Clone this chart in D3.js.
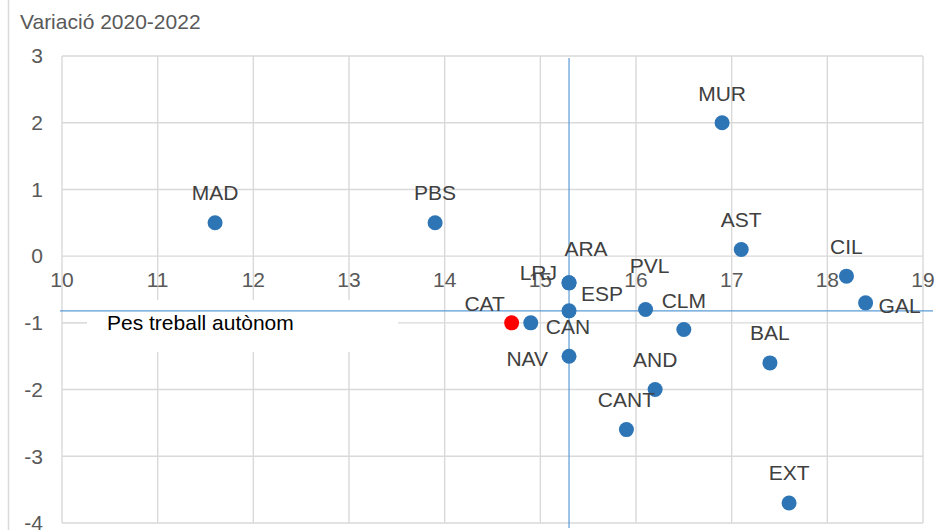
<!DOCTYPE html>
<html>
<head>
<meta charset="utf-8">
<script src="https://cdn.jsdelivr.net/npm/d3@7"></script>
<style>
  body { margin: 0; background: #fff; }
  svg { display: block; font-family: "Liberation Sans", Arial, sans-serif; }
</style>
</head>
<body>
<svg id="root" width="938" height="530"></svg>
<script>
"use strict";

// regions: pes treball autonom (x) vs variacio 2020-2022 (y)
const regions = ["MAD", "PBS", "MUR", "AST", "CIL", "GAL", "ARA", "LRJ", "ESP",
  "CAT", "CAN", "NAV", "PVL", "CLM", "AND", "CANT", "BAL", "EXT"];
const pesAutonom = [11.6, 13.9, 16.9, 17.1, 18.2, 18.4, 15.3, 15.3, 15.3,
  14.7, 14.9, 15.3, 16.1, 16.5, 16.2, 15.9, 17.4, 17.6];
const variacio = [0.5, 0.5, 2.0, 0.1, -0.3, -0.7, -0.4, -0.4, -0.82,
  -1.0, -1.0, -1.5, -0.8, -1.1, -2.0, -2.6, -1.6, -3.7];
const xTicks = [10, 11, 12, 13, 14, 15, 16, 17, 18, 19];
const yTicks = [3, 2, 1, 0, -1, -2, -3, -4];
const highlight = "CAT";
const reference = "ESP";
const yTitle = "Variació 2020-2022";
const legendLabel = "Pes treball autònom";

const data = regions.map((name, i) => ({ name, x: pesAutonom[i], y: variacio[i] }));
const ref = data.find((d) => d.name === reference);

const svg = d3.select("#root");

const xScale = d3.scaleLinear().domain([10, 19]).range([62, 923]);
const yScale = d3.scaleLinear().domain([-4, 3]).range([523, 56]);

const gridColor = "#d9d9d9";
const blue = "#2e75b6";
const lineBlue = "#5b9bd5";
const fontSize = "21px";

// label placement (anchor, dx, dy from the dot centre), tuned by hand
const labelPlace = {
  MAD: ["middle", 0, -30], PBS: ["middle", 0, -30], MUR: ["middle", 0, -29],
  AST: ["middle", 0, -30], CIL: ["middle", 0, -30], GAL: ["start", 13, 3],
  ARA: ["middle", 17, -34], LRJ: ["end", -12, -10], ESP: ["start", 12, -17],
  CAT: ["middle", -27, -19], CAN: ["start", 15, 4], NAV: ["end", -21, 2],
  PVL: ["middle", 4, -44], CLM: ["middle", 0, -29], AND: ["middle", 0, -30],
  CANT: ["middle", 0, -30], BAL: ["middle", 0, -30], EXT: ["middle", 0, -30],
};

// chart frame left edge
svg.append("line")
  .attr("x1", 8.5).attr("x2", 8.5)
  .attr("y1", 0).attr("y2", 530)
  .attr("stroke", gridColor).attr("stroke-width", 1.5);

// title
svg.append("text")
  .attr("x", 20)
  .attr("y", 29)
  .attr("fill", "#595959")
  .style("font-size", fontSize)
  .text(yTitle);

// gridlines
const grid = svg.append("g");
grid.selectAll("line.v")
  .data(xTicks)
  .join("line")
  .attr("class", "v")
  .attr("x1", (d) => xScale(d)).attr("x2", (d) => xScale(d))
  .attr("y1", yScale(3)).attr("y2", yScale(-4))
  .attr("stroke", gridColor).attr("stroke-width", 1.4);
grid.selectAll("line.h")
  .data(yTicks)
  .join("line")
  .attr("class", "h")
  .attr("x1", xScale(10)).attr("x2", xScale(19))
  .attr("y1", (d) => yScale(d)).attr("y2", (d) => yScale(d))
  .attr("stroke", gridColor).attr("stroke-width", 1.4);

// y tick labels
svg.append("g").selectAll("text")
  .data(yTicks)
  .join("text")
  .attr("x", 43)
  .attr("y", (d) => yScale(d))
  .attr("dy", "0.35em")
  .attr("text-anchor", "end")
  .attr("fill", "#595959")
  .style("font-size", fontSize)
  .text((d) => d);

// legend box hides the grid behind it
const legend = svg.append("g");
legend.append("rect")
  .attr("x", 63).attr("y", 300)
  .attr("width", 335).attr("height", 52)
  .attr("fill", "#fff");
legend.append("line")
  .attr("x1", 63).attr("x2", 87)
  .attr("y1", yScale(-1)).attr("y2", yScale(-1))
  .attr("stroke", gridColor).attr("stroke-width", 1.6);
legend.append("text")
  .attr("x", 107)
  .attr("y", yScale(-1))
  .attr("dy", "0.35em")
  .attr("fill", "#000")
  .style("font-size", fontSize)
  .text(legendLabel);

// x tick labels sit below the zero line
svg.append("g").selectAll("text")
  .data(xTicks)
  .join("text")
  .attr("x", (d) => xScale(d))
  .attr("y", yScale(0) + 24)
  .attr("dy", "0.35em")
  .attr("text-anchor", "middle")
  .attr("fill", "#595959")
  .style("font-size", fontSize)
  .text((d) => d);

// reference lines through the Spain average
svg.append("line")
  .attr("x1", xScale(ref.x)).attr("x2", xScale(ref.x))
  .attr("y1", yScale(3) + 2).attr("y2", yScale(-4) + 5)
  .attr("stroke", lineBlue).attr("stroke-width", 1.2);
svg.append("line")
  .attr("x1", xScale(10) - 2).attr("x2", xScale(19) + 10)
  .attr("y1", yScale(ref.y)).attr("y2", yScale(ref.y))
  .attr("stroke", lineBlue).attr("stroke-width", 1.2);

// dots
svg.append("g").selectAll("circle")
  .data(data)
  .join("circle")
  .attr("cx", (d) => xScale(d.x))
  .attr("cy", (d) => yScale(d.y))
  .attr("r", 7.5)
  .attr("fill", (d) => (d.name === highlight ? "#ff0000" : blue));

// data labels
svg.append("g").selectAll("text")
  .data(data)
  .join("text")
  .attr("x", (d) => xScale(d.x) + labelPlace[d.name][1])
  .attr("y", (d) => yScale(d.y) + labelPlace[d.name][2])
  .attr("dy", "0.35em")
  .attr("text-anchor", (d) => labelPlace[d.name][0])
  .attr("fill", "#404040")
  .style("font-size", fontSize)
  .text((d) => d.name);
</script>
</body>
</html>
